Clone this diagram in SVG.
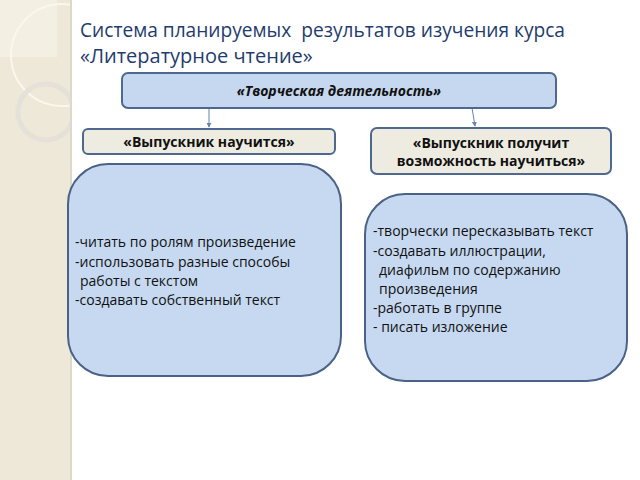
<svg xmlns="http://www.w3.org/2000/svg" width="640" height="480" viewBox="0 0 640 480">
<defs>
<style>
.t{font-family:"Open Sans","Liberation Sans",sans-serif;}
.title{font-size:20px;fill:#1F3C6D;}
.hdr{fill:#C5D8EF;stroke:#4E6890;stroke-width:2;}
.beige{fill:#EEECE1;stroke:#4E6890;stroke-width:2;}
.big{fill:#C6D9F1;stroke:#4A6286;stroke-width:2;}
.lbl{font-size:14px;font-weight:bold;fill:#111;text-anchor:middle;}
.body{font-size:14px;fill:#111;}
.conn{stroke:#6A80B0;stroke-width:1;fill:none;marker-end:url(#ah);}
</style>
<marker id="ah" viewBox="0 0 6 6" refX="5" refY="3" markerWidth="5" markerHeight="5" orient="auto">
<path d="M0,0 L6,3 L0,6 z" fill="#6A80B0"/>
</marker>
<clipPath id="strip"><rect x="0" y="0" width="70" height="480"/></clipPath>
</defs>
<rect x="0" y="0" width="640" height="480" fill="#FFFFFF"/>
<g id="background">
<rect x="0" y="0" width="70" height="480" fill="#EDE8D8"/>
<rect x="0" y="0" width="57" height="57" fill="#F3EFE3"/>
<rect x="70" y="0" width="2" height="480" fill="#DCD8CC"/>
<g clip-path="url(#strip)">
<circle cx="62" cy="55" r="51" fill="none" stroke="#FAF7EC" stroke-width="2"/>
<circle cx="46" cy="112" r="28" fill="none" stroke="#E4E1D9" stroke-width="5"/>
</g>
</g>
<g id="title" class="t title">
<text x="80" y="37" textLength="485" lengthAdjust="spacingAndGlyphs" xml:space="preserve">Система планируемых  результатов изучения курса</text>
<text x="80" y="63">«Литературное чтение»</text>
</g>
<g id="connectors">
<line class="conn" x1="209" y1="108" x2="209" y2="127"/>
<line class="conn" x1="472" y1="108" x2="475" y2="126"/>
</g>
<g id="node-creative">
<rect class="hdr" x="122" y="73" width="434" height="35" rx="6"/>
<text class="t lbl" x="339" y="96" font-style="italic" font-size="15">«Творческая деятельность»</text>
</g>
<g id="node-learn">
<rect class="beige" x="83" y="129" width="252" height="25" rx="5"/>
<text class="t lbl" x="209" y="147">«Выпускник научится»</text>
</g>
<g id="node-opportunity">
<rect class="beige" x="371" y="128" width="240" height="46" rx="6"/>
<text class="t lbl" x="491" y="148">«Выпускник получит</text>
<text class="t lbl" x="491" y="166">возможность научиться»</text>
</g>
<g id="node-learn-list">
<rect class="big" x="68" y="164" width="273" height="212" rx="40"/>
<text class="t body" x="75" y="247">-читать по ролям произведение</text>
<text class="t body" x="75" y="267">-использовать разные способы</text>
<text class="t body" x="80" y="286">работы с текстом</text>
<text class="t body" x="75" y="305">-создавать собственный текст</text>
</g>
<g id="node-opportunity-list">
<rect class="big" x="365" y="194" width="262" height="187" rx="40"/>
<text class="t body" x="373" y="236">-творчески пересказывать текст</text>
<text class="t body" x="373" y="256">-создавать иллюстрации,</text>
<text class="t body" x="379" y="275">диафильм по содержанию</text>
<text class="t body" x="379" y="294">произведения</text>
<text class="t body" x="373" y="313">-работать в группе</text>
<text class="t body" x="373" y="332">- писать изложение</text>
</g>
</svg>
